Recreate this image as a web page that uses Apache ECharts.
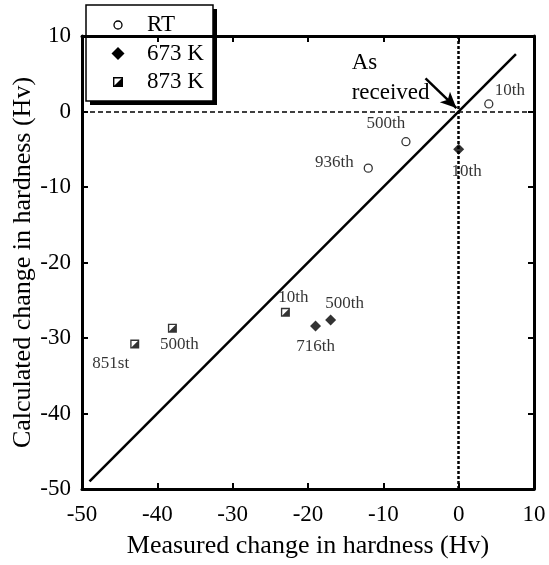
<!DOCTYPE html>
<html>
<head>
<meta charset="utf-8">
<script src="https://cdn.jsdelivr.net/npm/echarts@6/dist/echarts.min.js"></script>
<style>
  html, body { margin: 0; padding: 0; background: #fff; }
  #chart { width: 549px; height: 565px; }
</style>
</head>
<body>
<div id="chart"></div>
<script>
// Measured vs calculated hardness change, by test condition
const seriesNames = ['RT', '673 K', '873 K'];

const rtMeasured = [4, -7, -12];
const rtCalculated = [1, -4, -7.5];
const rtLabels = ['10th', '500th', '936th'];

const k673Measured = [0, -17, -19];
const k673Calculated = [-5, -27.6, -28.4];
const k673Labels = ['10th', '500th', '716th'];

const k873Measured = [-23, -38, -43];
const k873Calculated = [-26.6, -28.7, -30.8];
const k873Labels = ['10th', '500th', '851st'];

// 1:1 reference line ends
const diagonalEnds = [-49, 7.6];

// "As received" arrow, tail and head in data units
const arrowTail = [-4.4, 4.4];
const arrowHead = [-0.3, 0.45];
const asReceivedText = 'As\nreceived';
const asReceivedAnchor = [-14.2, 4.4];

const axisMin = -50, axisMax = 10, axisStep = 10;

const FONT = '"Liberation Serif", "Times New Roman", serif';

// label offsets (px) for each point's annotation
const rtOffsets = [[21, -13], [-20, -18], [-34, -6]];
const k673Offsets = [[8, 22], [14, -16], [0, 21]];
const k873Offsets = [[8, -15], [7, 16], [-24, 19]];

// half-filled square: outline frame plus lower-right triangle
const halfSquare = 'path://M0 0 L10 0 L10 10 L0 10 Z M1.5 1.5 L1.5 8.5 L8.5 8.5 L8.5 1.5 Z M8.5 1.5 L8.5 8.5 L1.5 8.5 Z';

function pts(xs, ys, labels, offsets) {
  return xs.map((x, i) => ({
    value: [x, ys[i]],
    label: { show: true, formatter: labels[i], position: 'inside', offset: offsets[i] }
  }));
}

const labelStyle = {
  fontFamily: FONT, fontSize: 17, color: '#000'
};

const chart = echarts.init(document.getElementById('chart'), null, { renderer: 'canvas' });

const axisCommon = {
  type: 'value', min: axisMin, max: axisMax, interval: axisStep,
  splitLine: { show: false },
  axisLine: { show: true, onZero: false, lineStyle: { color: '#000', width: 3 } },
  axisTick: { show: true, inside: true, length: 6, lineStyle: { color: '#000', width: 2 } }
};

chart.setOption({
  animation: false,
  backgroundColor: '#fff',
  grid: { left: 82, right: 15, top: 36, bottom: 76, show: false, containLabel: false, outerBoundsMode: 'none' },
  xAxis: [
    Object.assign({}, axisCommon, {
      position: 'bottom',
      name: 'Measured change in hardness (Hv)',
      nameLocation: 'middle', nameGap: 44, nameMoveOverlap: false,
      nameTextStyle: { fontFamily: FONT, fontSize: 26, color: '#000' },
      axisLabel: { fontFamily: FONT, fontSize: 23, color: '#000', margin: 14 }
    }),
    Object.assign({}, axisCommon, { position: 'top', axisLabel: { show: false } })
  ],
  yAxis: [
    Object.assign({}, axisCommon, {
      position: 'left',
      name: 'Calculated change in hardness (Hv)',
      nameLocation: 'middle', nameGap: 46, nameMoveOverlap: false,
      nameTextStyle: { fontFamily: FONT, fontSize: 26, color: '#000' },
      axisLabel: { fontFamily: FONT, fontSize: 23, color: '#000', margin: 11 }
    }),
    Object.assign({}, axisCommon, { position: 'right', axisLabel: { show: false } })
  ],
  series: [
    {
      name: 'diagonal', type: 'line', silent: true, symbol: 'none', z: 1,
      data: [[diagonalEnds[0], diagonalEnds[0]], [diagonalEnds[1], diagonalEnds[1]]],
      lineStyle: { color: '#000', width: 2.5 },
      markLine: {
        silent: true, animation: false, symbol: 'none', label: { show: false },
        data: [
          [{ coord: [axisMin, 0], lineStyle: { type: [5, 3], width: 1.5, color: '#000' } }, { coord: [axisMax, 0] }],
          [{ coord: [0, axisMax], lineStyle: { type: [3, 2], width: 2.5, color: '#000' } }, { coord: [0, axisMin] }],
          [{ coord: arrowTail, symbol: 'none', lineStyle: { type: 'solid', width: 2.5, color: '#000' } },
           { coord: arrowHead, symbol: 'arrow', symbolSize: [11, 16] }]
        ]
      }
    },
    {
      name: seriesNames[0], type: 'scatter', z: 3,
      symbol: 'circle', symbolSize: 8,
      itemStyle: { color: '#fff', borderColor: '#000', borderWidth: 1.3 },
      label: labelStyle,
      data: pts(rtMeasured, rtCalculated, rtLabels, rtOffsets)
    },
    {
      name: seriesNames[1], type: 'scatter', z: 3,
      symbol: 'diamond', symbolSize: 11,
      itemStyle: { color: '#000' },
      label: labelStyle,
      data: pts(k673Measured, k673Calculated, k673Labels, k673Offsets)
    },
    {
      name: seriesNames[2], type: 'scatter', z: 3,
      symbol: halfSquare, symbolSize: 9,
      itemStyle: { color: '#000' },
      label: labelStyle,
      data: pts(k873Measured, k873Calculated, k873Labels, k873Offsets)
    }
  ]
});

// legend box and the "As received" note
const anchorPx = chart.convertToPixel({ gridIndex: 0 }, asReceivedAnchor);
const legendX = 86, legendY = 5, rowH = 28.5;
function legendSymbol(i, x, y) {
  if (i === 0) {
    return [{ type: 'circle', x: x, y: y, shape: { cx: 0, cy: 0, r: 4 }, style: { fill: '#fff', stroke: '#000', lineWidth: 1.3 } }];
  }
  if (i === 1) {
    return [{ type: 'polygon', x: x, y: y, shape: { points: [[0, -6.5], [6.5, 0], [0, 6.5], [-6.5, 0]] }, style: { fill: '#000' } }];
  }
  return [
    { type: 'rect', x: x, y: y, shape: { x: -4.3, y: -4.3, width: 8.6, height: 8.6 }, style: { fill: '#fff', stroke: '#000', lineWidth: 1.4 } },
    { type: 'polygon', x: x, y: y, shape: { points: [[4.3, -4.3], [4.3, 4.3], [-4.3, 4.3]] }, style: { fill: '#000' } }
  ];
}
const legendChildren = [
  { type: 'rect', shape: { x: 4, y: 4, width: 127, height: 96 }, style: { fill: '#000' } },
  { type: 'rect', shape: { x: 0, y: 0, width: 127, height: 96 }, style: { fill: '#fff', stroke: '#000', lineWidth: 1.5 } }
];
seriesNames.forEach((n, i) => {
  const cy = 20 + i * rowH;
  legendSymbol(i, 32, cy).forEach(el => legendChildren.push(el));
  legendChildren.push({
    type: 'text', x: 61, y: cy,
    style: { text: n, fontFamily: FONT, fontSize: 23, fill: '#000', verticalAlign: 'middle', align: 'left' }
  });
});

chart.setOption({
  graphic: [
    { type: 'group', x: legendX, y: legendY, z: 100, children: legendChildren },
    {
      type: 'text', x: anchorPx[0], y: anchorPx[1], z: 50,
      style: { text: asReceivedText, fontFamily: FONT, fontSize: 23, lineHeight: 30, fill: '#000', align: 'left', verticalAlign: 'middle' }
    }
  ]
});
</script>
</body>
</html>
